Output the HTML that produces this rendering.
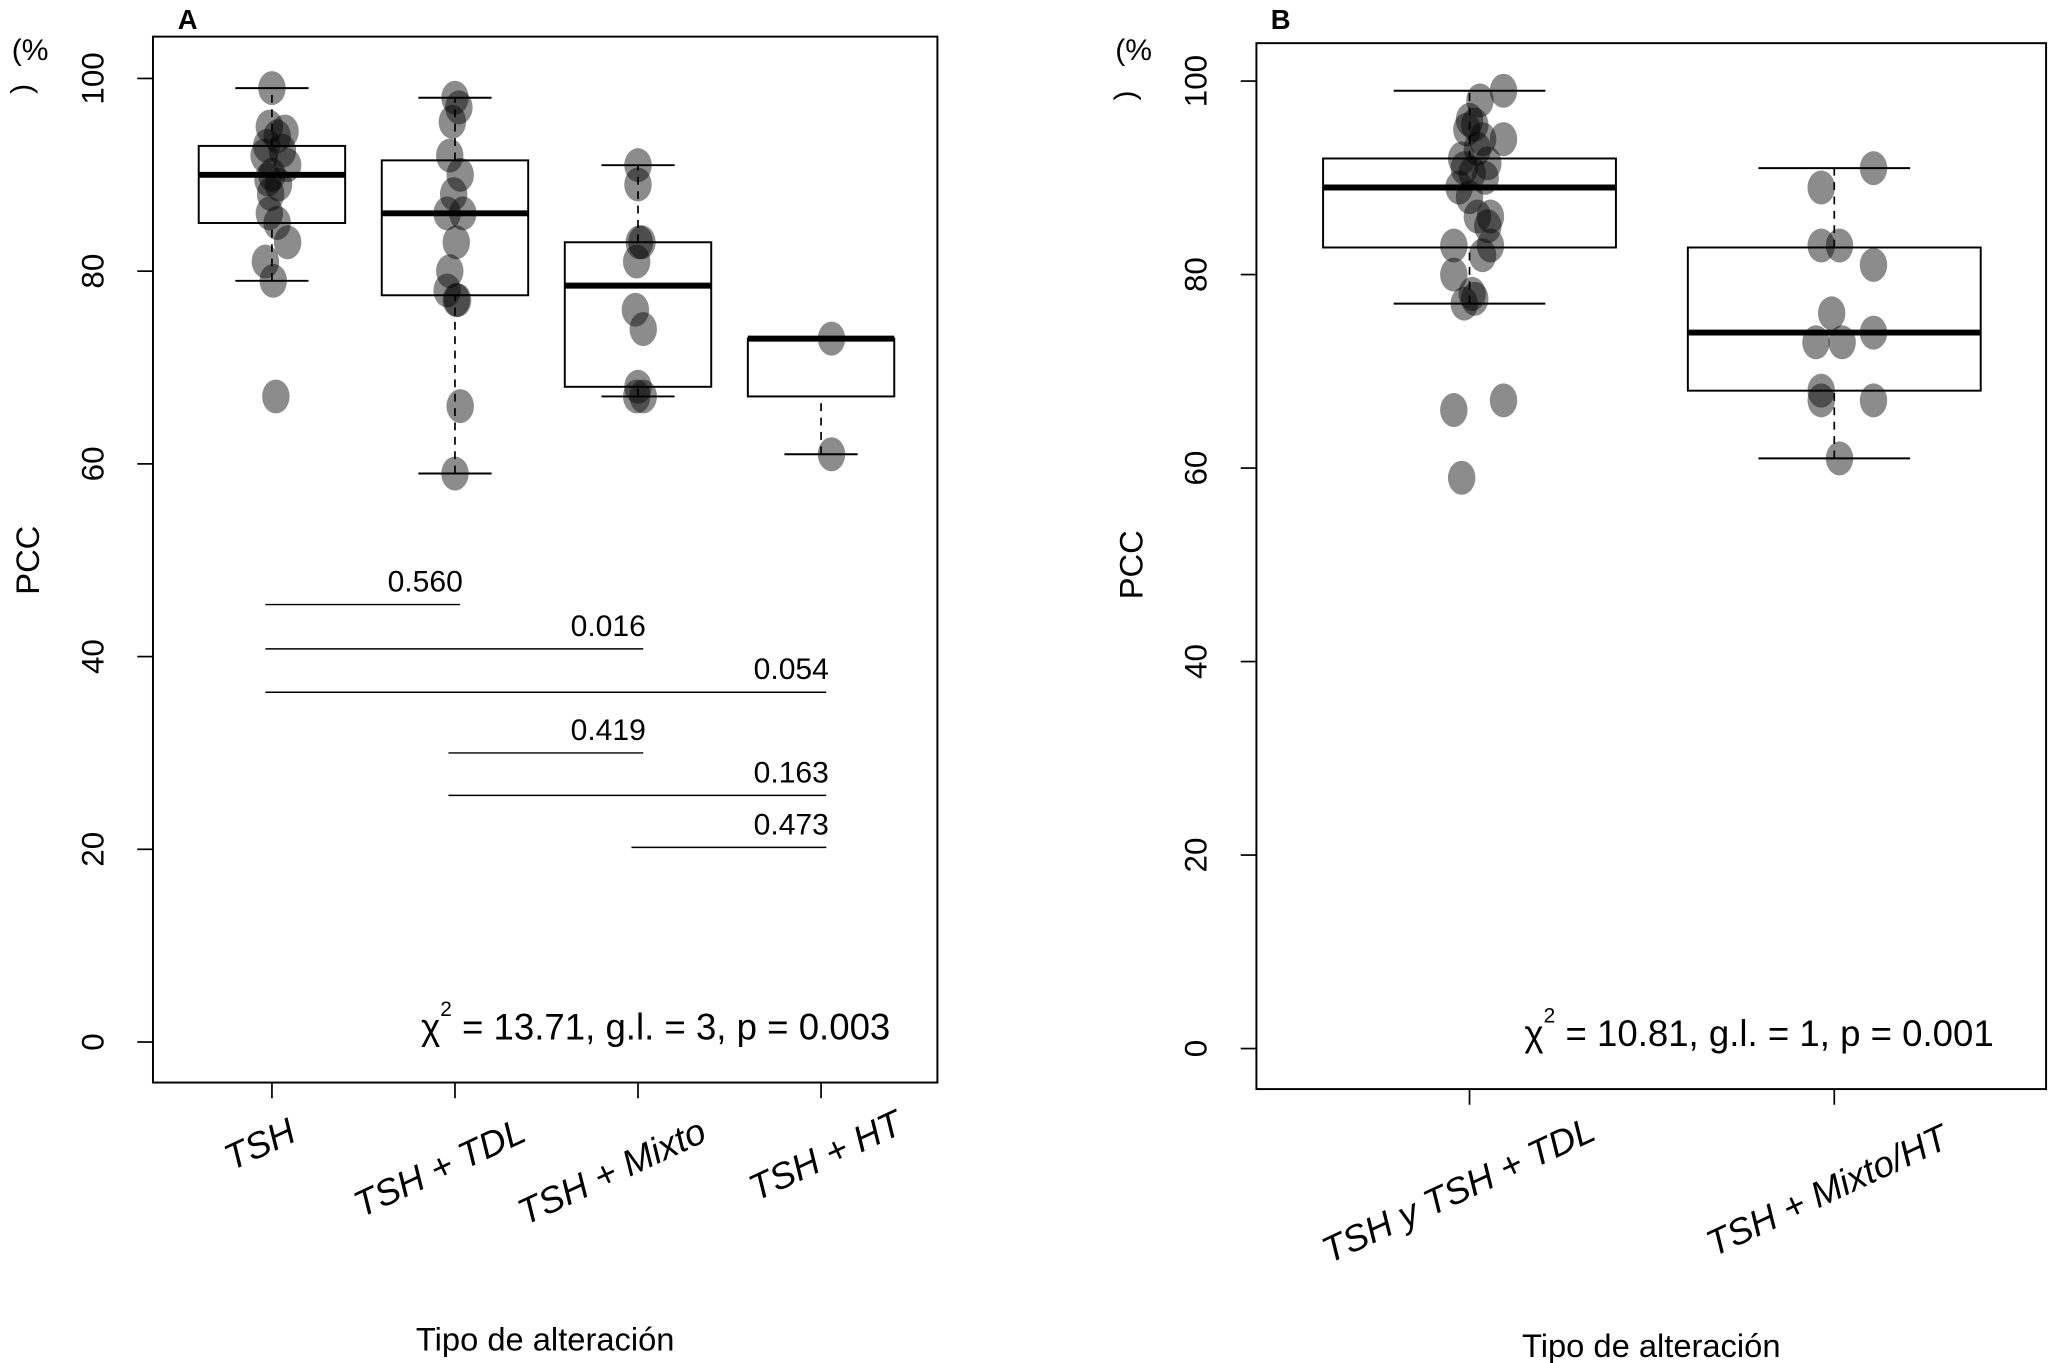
<!DOCTYPE html>
<html><head><meta charset="utf-8"><style>
html,body{margin:0;padding:0;background:#fff;}
svg{display:block;font-family:"Liberation Sans",sans-serif;}
</style></head><body>
<svg id="chart" width="2050" height="1363" viewBox="0 0 1568 1042.5" xmlns="http://www.w3.org/2000/svg"></svg>
<script>
// ---- data ----
const catsA = ["TSH", "TSH + TDL", "TSH + Mixto", "TSH + HT"];
const statsA = [
  [79, 85, 90, 93, 99],
  [59, 77.5, 86, 91.5, 98],
  [67, 68, 78.5, 83, 91],
  [61, 67, 73, 73, 73]
];
const pointsA = [
  [99, 95, 94.5, 94, 93, 92.5, 92, 91, 90, 89.5, 89, 88, 86, 85, 83, 81, 79, 67],
  [98, 97, 95.5, 92, 90, 88, 86, 86, 83, 80, 78, 77, 77, 66, 59],
  [91, 89, 83, 83, 81, 76, 74, 68, 67, 67],
  [73, 61]
];
const jitterA = [
  [0, -2, 10, 4, -4, 8, -6, 12, 0, -3, 5, -1, -2, 4, 12, -5, 1, 3],
  [0, 3, -2, -4, 4, -1, -6, 6, 1, -4, -6, 1, 2, 4, 0],
  [0, 0, 3, 1, -1, -2, 4, 0, -1, 4],
  [8, 8]
];
const compLines = [[0, 1, 45.4], [0, 2, 40.8], [0, 3, 36.3], [1, 2, 30], [1, 3, 25.6], [2, 3, 20.2]];
const compLabels = ["0.560", "0.016", "0.054", "0.419", "0.163", "0.473"];
const catsB = ["TSH y TSH + TDL", "TSH + Mixto/HT"];
const statsB = [
  [77, 82.8, 89, 92, 99],
  [61, 68, 74, 82.8, 91]
];
const pointsB = [
  [99, 98, 96, 95.5, 95, 94, 94, 93, 92, 91.5, 91, 90.5, 90, 89, 88, 86, 86, 85, 83, 83, 82, 80, 78, 77.5, 77, 67, 66, 59],
  [91, 89, 83, 83, 81, 76, 74, 73, 73, 68, 67, 67, 61]
];
const jitterB = [
  [26, 8, 0, 4, -2, 26, 10, 6, -6, 14, -4, 2, 12, -8, 0, 16, 6, 14, -12, 16, 10, -12, 2, 4, -4, 26, -12, -6],
  [30, -10, -10, 4, 30, -2, 30, -14, 6, -10, 30, -10, 4]
];
const yTicks = [0, 20, 40, 60, 80, 100];

const NS = "http://www.w3.org/2000/svg";
const svg = document.getElementById("chart");
function mk(tag, attrs, parent, text) {
  const e = document.createElementNS(NS, tag);
  for (const k in attrs) e.setAttribute(k, attrs[k]);
  if (text !== undefined) e.textContent = text;
  (parent || svg).appendChild(e);
  return e;
}

function panel(cfg) {
  const g = mk("g", {});
  
  
  const y = v => cfg.y0 - (v / 20) * cfg.per20;
  const x = i => cfg.xs[i];
  const fr = mk("rect", {x: cfg.L, y: cfg.T, width: cfg.R - cfg.L, height: cfg.B - cfg.T, fill: "none", stroke: "#000", "stroke-width": 1.5}, g);
  
  
  const pl = mk("text", {x: cfg.letterX, y: 22, "font-size": 21, "font-weight": "bold"}, g, cfg.letter);
  
  
  yTicks.forEach(t => {
    mk("line", {x1: cfg.L - 12, x2: cfg.L, y1: y(t), y2: y(t), stroke: "#000", "stroke-width": 1.3}, g);
    const tl = mk("text", {x: 0, y: 0, "font-size": 24, "text-anchor": "middle", transform: `translate(${cfg.L - 38},${y(t)}) rotate(-90)`}, g, String(t));
    
    
  });
  const yt = mk("text", {x: 0, y: 0, "font-size": 25, "text-anchor": "middle", transform: `translate(${cfg.L - 87},${y(50)}) rotate(-90)`}, g, "PCC");
  
  
  const pc = mk("text", {x: cfg.L - 108, y: 46, "font-size": 23}, g, "(%");
  
  
  mk("text", {x: 0, y: 0, "font-size": 23, "text-anchor": "middle", transform: `translate(${cfg.L - 93},${cfg.T + 40}) rotate(-90)`}, g, ")");
  cfg.cats.forEach((c, i) => {
    mk("line", {x1: x(i), x2: x(i), y1: cfg.B, y2: cfg.B + 12, stroke: "#000", "stroke-width": 1.3}, g);
    const xl = mk("text", {x: 0, y: 0, "font-size": 28, "font-style": "italic", "text-anchor": "end", transform: `translate(${x(i) + cfg.lblDx[i]},${cfg.B + cfg.lblDy[i]}) rotate(-25)`}, g, c);
    
    
  });
  const xt = mk("text", {x: (cfg.L + cfg.R) / 2, y: cfg.B + 205, "font-size": 25, "text-anchor": "middle"}, g, "Tipo de alteración");
  
  
  cfg.stats.forEach((s, i) => {
    const bg = mk("g", {}, g);
    
    
    const hw = cfg.hw, cap = cfg.cap;
    mk("line", {x1: x(i), x2: x(i), y1: y(s[0]), y2: y(s[1]), stroke: "#000", "stroke-width": 1.3, "stroke-dasharray": "6,5"}, bg);
    mk("line", {x1: x(i), x2: x(i), y1: y(s[3]), y2: y(s[4]), stroke: "#000", "stroke-width": 1.3, "stroke-dasharray": "6,5"}, bg);
    mk("line", {x1: x(i) - cap, x2: x(i) + cap, y1: y(s[0]), y2: y(s[0]), stroke: "#000", "stroke-width": 1.5}, bg);
    mk("line", {x1: x(i) - cap, x2: x(i) + cap, y1: y(s[4]), y2: y(s[4]), stroke: "#000", "stroke-width": 1.5}, bg);
    mk("rect", {x: x(i) - hw, y: y(s[3]), width: 2 * hw, height: y(s[1]) - y(s[3]), fill: "#fff", stroke: "#000", "stroke-width": 1.5}, bg);
    mk("line", {x1: x(i) - hw, x2: x(i) + hw, y1: y(s[2]), y2: y(s[2]), stroke: "#000", "stroke-width": 4.5}, bg);
  });
  cfg.points.forEach((arr, i) => {
    arr.forEach((v, j) => {
      const p = mk("ellipse", {cx: x(i) + cfg.jit[i][j], cy: y(v), rx: 10.5, ry: 13, fill: "rgba(0,0,0,0.45)"}, g);
      
      
    });
  });
  const st = mk("text", {x: cfg.statX, y: y(0) - 2, "font-size": 28}, g);
  
  
  mk("tspan", {}, st, "χ");
  mk("tspan", {dy: -18, "font-size": 16}, st, "2");
  mk("tspan", {dy: 18}, st, cfg.statText);
  return {g, x, y};
}

const A = panel({name: "panel-a", letter: "A", letterX: 136, L: 117, R: 717, T: 28, B: 828, y0: 797, per20: 147.4,
  xs: [208, 348, 488, 628], hw: 56, cap: 28, cats: catsA, stats: statsA, points: pointsA, jit: jitterA,
  statX: 322, statText: " = 13.71, g.l. = 3,  p = 0.003", lblDx: [20, 56, 54, 64], lblDy: [44, 44, 44, 38]});
compLines.forEach((c, k) => {
  const ln = mk("line", {x1: A.x(c[0]) - 5, x2: A.x(c[1]) + 4, y1: A.y(c[2]), y2: A.y(c[2]), stroke: "#000", "stroke-width": 1.1}, A.g);
  
  
  const lb = mk("text", {x: A.x(c[1]) + 6, y: A.y(c[2]) - 10, "font-size": 23, "text-anchor": "end"}, A.g, compLabels[k]);
  
  
});
panel({name: "panel-b", letter: "B", letterX: 972, L: 961, R: 1565, T: 33, B: 833, y0: 802, per20: 148,
  xs: [1124, 1403], hw: 112, cap: 58, cats: catsB, stats: statsB, points: pointsB, jit: jitterB,
  statX: 1166, statText: " = 10.81, g.l. = 1,  p = 0.001", lblDx: [98, 89], lblDy: [38, 44]});
</script>
</body></html>
